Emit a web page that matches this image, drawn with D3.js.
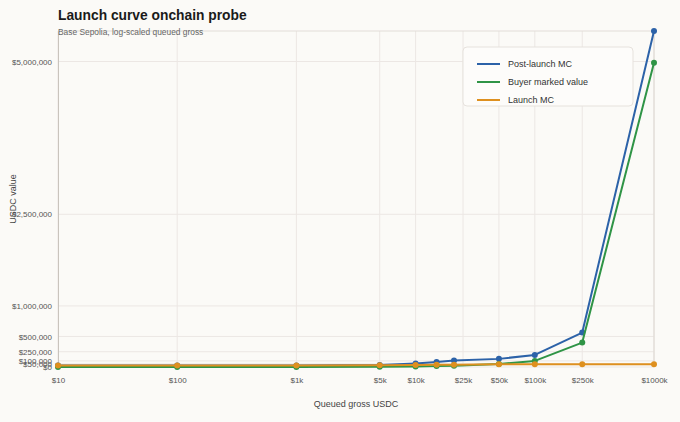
<!DOCTYPE html>
<html>
<head>
<meta charset="utf-8">
<script src="https://cdn.jsdelivr.net/npm/d3@7"></script>
<style>
  html, body { margin: 0; padding: 0; background: #fbfaf7; }
  svg { display: block; font-family: "Liberation Sans", Arial, sans-serif; }
</style>
</head>
<body>
<div id="chart"></div>
<script>
// Chart data
const queuedGross = [10, 100, 1000, 5000, 10000, 15000, 21000, 50000, 100000, 250000, 1000000];
const postLaunchMC = [25000, 25000, 26000, 32000, 58000, 80000, 105000, 133000, 198000, 563000, 5500000];
const buyerMarkedValue = [10, 100, 1000, 5000, 10000, 15000, 21000, 48000, 100000, 400000, 4980000];
const launchMC = [25000, 25000, 26000, 30000, 33000, 35000, 37000, 44000, 45000, 46000, 46000];

const xTickValues = [10, 100, 1000, 5000, 10000, 25000, 50000, 100000, 250000, 1000000];
const xTickLabels = ["$10", "$100", "$1k", "$5k", "$10k", "$25k", "$50k", "$100k", "$250k", "$1000k"];
const yTickValues = [0, 50000, 100000, 250000, 500000, 1000000, 2500000, 5000000];

const seriesNames = ["Post-launch MC", "Buyer marked value", "Launch MC"];
const seriesColors = ["#2c62a8", "#2f9446", "#de901f"];

// Container size
let width = 680;
let height = 422;
let margin = { top: 31, right: 26, bottom: 55, left: 58 };

let series = [postLaunchMC, buyerMarkedValue, launchMC].map((vals, i) => ({
    name: seriesNames[i],
    color: seriesColors[i],
    points: vals.map((v, j) => ({ x: queuedGross[j], y: v })),
}));

let svg = d3
    .select("#chart")
    .append("svg")
    .attr("width", width)
    .attr("height", height);

svg.append("rect").attr("width", width).attr("height", height).attr("fill", "#fbfaf7");

let x = d3
    .scaleLog()
    .domain([10, 1000000])
    .range([margin.left, width - margin.right]);

let yMax = d3.max(series, (s) => d3.max(s.points, (p) => p.y));
let y = d3
    .scaleLinear()
    .domain([0, yMax])
    .range([height - margin.bottom, margin.top]);

// gridlines
let grid = svg.append("g").attr("stroke", "#ece7e4").attr("stroke-width", 1);
grid.selectAll("line.v")
    .data(xTickValues)
    .join("line")
    .attr("class", "v")
    .attr("x1", (d) => x(d))
    .attr("x2", (d) => x(d))
    .attr("y1", margin.top)
    .attr("y2", height - margin.bottom);
grid.selectAll("line.h")
    .data(yTickValues)
    .join("line")
    .attr("class", "h")
    .attr("x1", margin.left)
    .attr("x2", width - margin.right)
    .attr("y1", (d) => y(d))
    .attr("y2", (d) => y(d));

// frame
svg.append("line")
    .attr("x1", margin.left).attr("x2", width - margin.right)
    .attr("y1", margin.top).attr("y2", margin.top)
    .attr("stroke", "#e2ddd8");
svg.append("line")
    .attr("x1", width - margin.right).attr("x2", width - margin.right)
    .attr("y1", margin.top).attr("y2", height - margin.bottom)
    .attr("stroke", "#ddd8d2");

// axes
let xAxis = d3
    .axisBottom(x)
    .tickValues(xTickValues)
    .tickFormat((d, i) => xTickLabels[i])
    .tickSize(0)
    .tickPadding(10);
let gx = svg.append("g")
    .attr("transform", `translate(0, ${height - margin.bottom})`)
    .call(xAxis);
gx.select(".domain").remove();

let yAxis = d3
    .axisLeft(y)
    .tickValues(yTickValues)
    .tickFormat((d) => "$" + d3.format(",")(d))
    .tickSize(0)
    .tickPadding(6);
let gy = svg.append("g")
    .attr("transform", `translate(${margin.left}, 0)`)
    .call(yAxis);
gy.select(".domain").attr("stroke", "#c9c4bd");

svg.selectAll(".tick text")
    .attr("fill", "#555")
    .style("font-size", "8px")
    .style("font-family", "'Liberation Sans', Arial, sans-serif");

// lines and dots
let line = d3.line().x((d) => x(d.x)).y((d) => y(d.y));

let sg = svg.append("g")
    .selectAll("g")
    .data(series)
    .join("g");

sg.append("path")
    .attr("d", (d) => line(d.points))
    .attr("fill", "none")
    .attr("stroke", (d) => d.color)
    .attr("stroke-width", 2)
    .attr("stroke-linejoin", "round");

sg.selectAll("circle")
    .data((d) => d.points.map((p) => ({ ...p, color: d.color })))
    .join("circle")
    .attr("cx", (d) => x(d.x))
    .attr("cy", (d) => y(d.y))
    .attr("r", 3)
    .attr("fill", (d) => d.color);

// titles
svg.append("text")
    .attr("x", margin.left)
    .attr("y", 20)
    .attr("font-size", "13.8px")
    .attr("font-weight", "bold")
    .attr("fill", "#1a1a1a")
    .text("Launch curve onchain probe");

svg.append("text")
    .attr("x", margin.left)
    .attr("y", 35)
    .attr("font-size", "8.4px")
    .attr("fill", "#666")
    .text("Base Sepolia, log-scaled queued gross");

svg.append("text")
    .attr("x", (margin.left + width - margin.right) / 2)
    .attr("y", 407)
    .attr("text-anchor", "middle")
    .attr("font-size", "9px")
    .attr("fill", "#444")
    .text("Queued gross USDC");

svg.append("text")
    .attr("transform", `translate(16, ${(margin.top + height - margin.bottom) / 2}) rotate(-90)`)
    .attr("text-anchor", "middle")
    .attr("font-size", "9px")
    .attr("fill", "#444")
    .text("USDC value");

// legend
let legend = svg.append("g").attr("transform", "translate(463, 47)");
legend.append("rect")
    .attr("width", 170)
    .attr("height", 59)
    .attr("rx", 4)
    .attr("fill", "#fdfcfa")
    .attr("stroke", "#e6e2dd");

let li = legend.selectAll("g")
    .data(series)
    .join("g")
    .attr("transform", (d, i) => `translate(0, ${17 + i * 18})`);
li.append("line")
    .attr("x1", 14).attr("x2", 37)
    .attr("stroke", (d) => d.color)
    .attr("stroke-width", 2);
li.append("text")
    .attr("x", 45)
    .attr("y", 3)
    .attr("font-size", "9px")
    .attr("fill", "#333")
    .text((d) => d.name);
</script>
</body>
</html>
